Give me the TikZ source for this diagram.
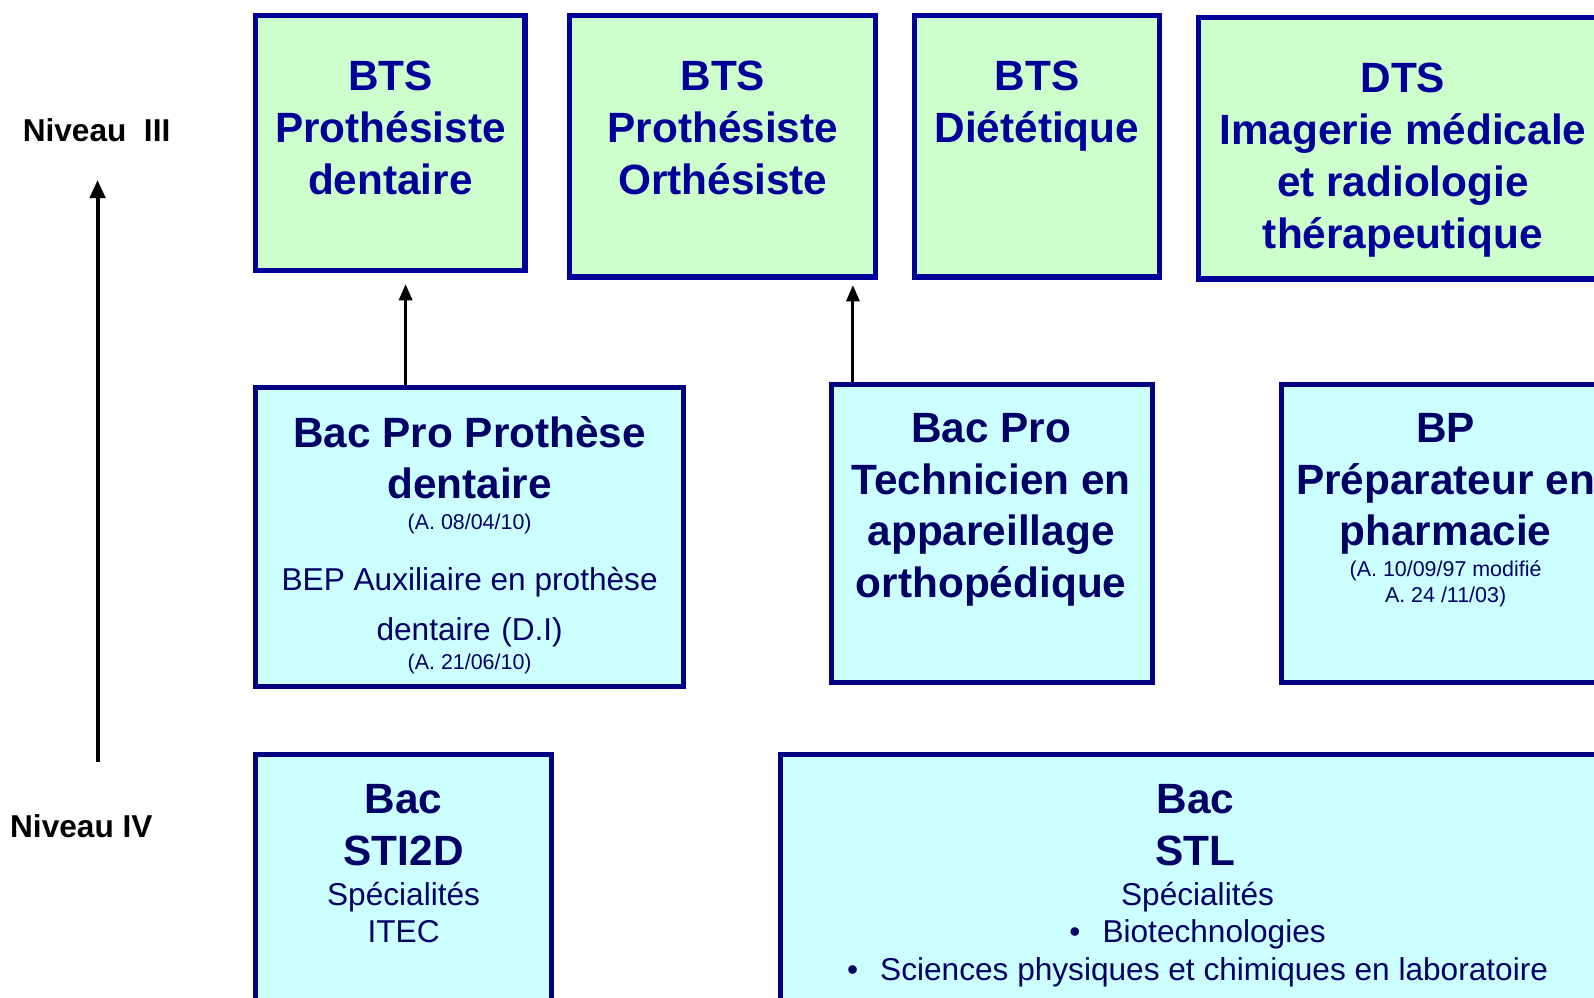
\documentclass[tikz,border=0pt]{standalone}
\usepackage{fontspec}
\setmainfont{Liberation Sans}
\usetikzlibrary{arrows.meta}
\definecolor{topblue}{RGB}{0,0,153}
\definecolor{topgreen}{RGB}{204,255,204}
\definecolor{midnavy}{RGB}{0,0,128}
\definecolor{midtext}{RGB}{0,0,102}
\definecolor{midcyan}{RGB}{204,255,255}
\tikzset{
every picture/.style={x=0.02cm, y=-0.02cm},
box/.style={draw, line width=2.9pt, inner sep=0pt},
greenbox/.style={box, draw=topblue, fill=topgreen},
cyanbox/.style={box, draw=midnavy, fill=midcyan},
bigtxt/.style={font=\fontsize{23.7}{29}\selectfont\bfseries, align=center, inner sep=0pt, anchor=north},
toptxt/.style={bigtxt, text=topblue},
midtxt/.style={bigtxt, text=midtext},
medtxt/.style={font=\fontsize{17.7}{27.8}\selectfont, text=midtext, align=center, inner sep=0pt, anchor=north},
spectxt/.style={font=\fontsize{17.7}{21}\selectfont, text=midtext, align=center, inner sep=0pt, anchor=north},
reftxt/.style={font=\fontsize{12}{14.7}\selectfont, text=midtext, align=center, inner sep=0pt},
niveau/.style={font=\fontsize{17.7}{21}\selectfont\bfseries, inner sep=0pt, anchor=base},
uparrow/.style={line width=1.7pt, -{Triangle[width=0.26cm, length=0.32cm]}}
}

\begin{document}
\begin{tikzpicture}
    \useasboundingbox (0,0) rectangle (1568,981);
    % niveau III
    \node[greenbox, minimum width=5.30cm, minimum height=5.02cm] (btsdent) at (384,141) {};
    \node[greenbox, minimum width=6.02cm, minimum height=5.14cm] (btsortho) at (711,144) {};
    \node[greenbox, minimum width=4.82cm, minimum height=5.14cm] (btsdiet) at (1020,144) {};
    \node[greenbox, minimum width=8.42cm, minimum height=5.14cm] (dtsimg) at (1389,146) {};
    \node[toptxt] (btsdent-t) at (384,60) {BTS\\Prothésiste\\dentaire};
    \node[toptxt] (btsortho-t) at (711,60) {BTS\\Prothésiste\\Orthésiste};
    \node[toptxt] (btsdiet-t) at (1020,60) {BTS\\Diététique};
    \node[toptxt] (dtsimg-t) at (1380,62) {DTS\\Imagerie médicale\\et radiologie\\thérapeutique};
    % bac pro / bp
    \node[cyanbox, minimum width=8.42cm, minimum height=5.88cm] (bacprodent) at (462,528.5) {};
    \node[cyanbox, minimum width=6.32cm, minimum height=5.86cm] (bacprotech) at (975.5,525) {};
    \node[cyanbox, minimum width=6.79cm, minimum height=5.86cm] (bppharma) at (1430,525) {};
    \node[midtxt] (bacprodent-t) at (462,409) {Bac Pro Prothèse\\dentaire};
    \node[reftxt, anchor=base] (bacprodent-r) at (462,520.5) {(A. 08/04/10)};
    \node[medtxt] (bepdent-t) at (462,558) {BEP Auxiliaire en prothèse\\dentaire\,\,(D.I)};
    \node[reftxt, anchor=base] (bepdent-r) at (462,658.5) {(A. 21/06/10)};
    \node[midtxt] (bacprotech-t) at (975,406) {Bac Pro\\Technicien en\\appareillage\\orthopédique};
    \node[midtxt] (bppharma-t) at (1422,406) {BP\\Préparateur en\\pharmacie};
    \node[reftxt, anchor=north] (bppharma-r) at (1422,551) {(A. 10/09/97 modifié\\A. 24 /11/03)};
    % niveau IV
    \node[cyanbox, minimum width=5.82cm, minimum height=5.15cm] (bacsti) at (397,871) {};
    \node[cyanbox, minimum width=16.65cm, minimum height=5.15cm] (bacstl) at (1184,871) {};
    \node[midtxt] (bacsti-t) at (397,771) {Bac\\STI2D};
    \node[spectxt] (bacsti-s) at (397,867) {Spécialités\\ITEC};
    \node[midtxt] (bacstl-t) at (1176,771) {Bac\\STL};
    \node[spectxt] (bacstl-s) at (1178,867) {Spécialités\\\textbullet\hspace{0.7em}Biotechnologies\\\textbullet\hspace{0.7em}Sciences physiques et chimiques en laboratoire};
    % passerelles
    \draw[uparrow, shorten >=0.21cm] (399,0 |- bacprodent.north) -- (399,0 |- btsdent.south);
    \draw[uparrow, shorten >=0.11cm] (839,0 |- bacprotech.north) -- (839,0 |- btsortho.south);
    % niveaux
    \node[niveau] (niv3) at (95,139) {Niveau\ \ III};
    \node[niveau] (niv4) at (80,824) {Niveau IV};
    \coordinate (nivbase) at (96,750);
    \coordinate (nivtop) at (96,177);
    \draw[line width=2.3pt, -{Triangle[width=0.3cm, length=0.36cm]}] (nivbase) -- (nivtop);
\end{tikzpicture}
\end{document}
